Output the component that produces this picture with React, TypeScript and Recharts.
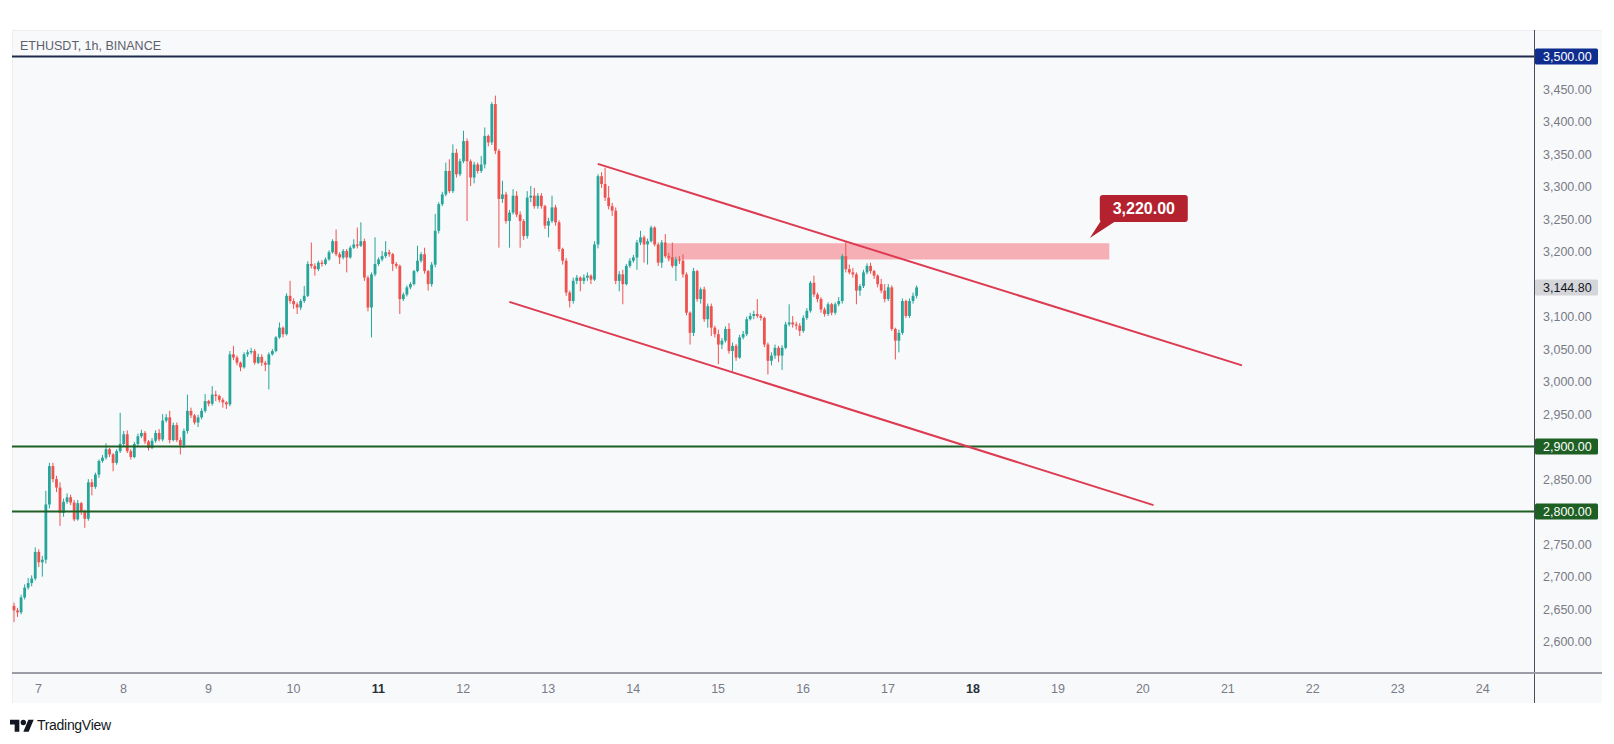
import React from 'react';
import { ComposedChart, Bar, XAxis, YAxis, ReferenceLine, ReferenceArea, ReferenceDot } from 'recharts';

// ---------------- DATA ----------------
const firstOpen = 2655;

const closes = [
  2648, 2645, 2668, 2683, 2690, 2697, 2738, 2722, 2726, 2811, 2870, 2850, 2837, 2798, 2815, 2822, 2814, 2788, 2813, 2800,
  2789, 2845, 2838, 2857, 2878, 2883, 2896, 2888, 2875, 2893, 2904, 2919, 2893, 2884, 2904, 2916, 2921, 2908, 2898, 2909,
  2921, 2911, 2940, 2945, 2910, 2933, 2910, 2902, 2924, 2955, 2948, 2937, 2945, 2955, 2970, 2966, 2980, 2978, 2972, 2968, 2965,
  3042, 3037, 3029, 3022, 3042, 3045, 3047, 3029, 3038, 3029, 3026, 3042, 3047, 3068, 3083, 3073, 3132, 3124, 3119, 3114,
  3124, 3132, 3181, 3178, 3173, 3183, 3181, 3188, 3199, 3216, 3196, 3191, 3201, 3191, 3206, 3211, 3209, 3216, 3160, 3114,
  3165, 3181, 3188, 3193, 3199, 3196, 3181, 3178, 3127, 3134, 3145, 3150, 3170, 3186, 3196, 3170, 3150, 3180, 3232, 3273,
  3288, 3324, 3293, 3352, 3319, 3339, 3370, 3339, 3314, 3334, 3324, 3334, 3378, 3368, 3427, 3355, 3281, 3288, 3247, 3260,
  3286, 3257, 3247, 3224, 3283, 3286, 3270, 3286, 3270, 3240, 3247, 3268, 3245, 3204, 3186, 3137, 3124, 3155, 3160, 3155,
  3160, 3163, 3157, 3211, 3316, 3304, 3283, 3270, 3263, 3155, 3165, 3150,
  3178, 3186, 3191, 3214, 3222, 3211, 3216, 3237, 3211, 3183, 3214, 3193, 3191, 3178, 3188, 3186, 3165, 3106, 3075, 3170,
  3127, 3142, 3096, 3116, 3083, 3073, 3057, 3063, 3081, 3047, 3055, 3037, 3068, 3073, 3096, 3101, 3104, 3101, 3098, 3057,
  3032, 3040, 3052, 3040, 3052, 3088, 3091, 3088, 3086, 3078, 3098, 3109, 3152, 3134, 3127, 3111, 3104, 3119, 3106, 3119,
  3124, 3193, 3173,
  3168, 3165, 3140, 3147, 3168, 3178, 3170, 3163, 3150, 3140, 3127, 3145, 3081, 3063, 3075, 3124, 3101, 3124, 3132, 3144.8,
];

const highs = [
  2660, 2652, 2672, 2688, 2698, 2702, 2745, 2742, 2732, 2832, 2875, 2875, 2855, 2845, 2820, 2828, 2826, 2818, 2818, 2815,
  2803, 2850, 2850, 2860, 2880, 2887, 2905, 2898, 2890, 2896, 2952, 2924, 2925, 2896, 2907, 2920, 2926, 2924, 2910, 2913,
  2925, 2927, 2950, 2950, 2955, 2937, 2937, 2914, 2928, 2980, 2960, 2950, 2949, 2959, 2981, 2972, 2993, 2986, 2980, 2975, 2970,
  3047, 3055, 3040, 3031, 3045, 3049, 3052, 3050, 3043, 3042, 3032, 3045, 3050, 3070, 3091, 3085, 3136, 3155, 3128, 3122,
  3127, 3147, 3185, 3214, 3182, 3186, 3187, 3191, 3202, 3219, 3234, 3199, 3204, 3204, 3209, 3219, 3237, 3245, 3220, 3163,
  3168, 3222, 3191, 3201, 3216, 3203, 3198, 3184, 3180, 3137, 3148, 3153, 3172, 3209, 3199, 3206, 3172, 3184, 3258, 3276,
  3292, 3337, 3342, 3365, 3358, 3343, 3386, 3374, 3342, 3338, 3337, 3347, 3391, 3380, 3430, 3440, 3358, 3309, 3292, 3264,
  3296, 3293, 3262, 3250, 3293, 3301, 3298, 3290, 3290, 3272, 3252, 3286, 3272, 3248, 3206, 3190, 3140, 3160, 3164, 3162,
  3165, 3168, 3165, 3216, 3319, 3322, 3329, 3301, 3275, 3268, 3170, 3172,
  3181, 3190, 3195, 3218, 3232, 3225, 3220, 3240, 3239, 3214, 3218, 3227, 3198, 3214, 3192, 3193, 3196, 3168, 3108, 3175,
  3172, 3145, 3146, 3120, 3120, 3086, 3080, 3067, 3085, 3090, 3060, 3058, 3072, 3078, 3100, 3106, 3109, 3127, 3104, 3100,
  3060, 3045, 3057, 3055, 3056, 3092, 3119, 3101, 3092, 3090, 3102, 3113, 3155, 3163, 3137, 3130, 3114, 3122, 3121, 3122,
  3130, 3196, 3216,
  3180, 3175, 3168, 3150, 3172, 3182, 3183, 3172, 3165, 3158, 3150, 3150, 3148, 3083, 3080, 3128, 3126, 3128, 3137, 3148,
];

const lows = [
  2630, 2638, 2642, 2665, 2680, 2685, 2694, 2715, 2700, 2720, 2805, 2845, 2830, 2778, 2792, 2812, 2810, 2785, 2786, 2795,
  2775, 2786, 2825, 2835, 2852, 2875, 2880, 2884, 2862, 2872, 2890, 2900, 2890, 2880, 2882, 2900, 2913, 2904, 2894, 2896,
  2906, 2908, 2908, 2937, 2905, 2908, 2907, 2888, 2898, 2920, 2944, 2934, 2930, 2942, 2952, 2962, 2963, 2970, 2968, 2960, 2958,
  2962, 3033, 3025, 3016, 3020, 3038, 3042, 3026, 3027, 3024, 3016, 2988, 3040, 3045, 3066, 3068, 3071, 3120, 3112, 3104,
  3110, 3121, 3130, 3174, 3163, 3170, 3177, 3179, 3186, 3197, 3193, 3181, 3188, 3168, 3189, 3204, 3205, 3207, 3155, 3108,
  3068, 3162, 3178, 3185, 3190, 3192, 3170, 3174, 3104, 3124, 3131, 3142, 3148, 3168, 3183, 3166, 3140, 3146, 3176, 3228,
  3270, 3285, 3290, 3290, 3314, 3316, 3336, 3247, 3301, 3305, 3320, 3321, 3328, 3362, 3364, 3350, 3206, 3275, 3243, 3206,
  3257, 3253, 3206, 3218, 3220, 3276, 3266, 3266, 3266, 3235, 3222, 3244, 3240, 3200, 3180, 3132, 3114, 3120, 3150, 3139,
  3150, 3155, 3150, 3155, 3205, 3298, 3278, 3265, 3255, 3150, 3139, 3119,
  3148, 3175, 3183, 3172, 3210, 3183, 3180, 3214, 3208, 3178, 3175, 3190, 3185, 3175, 3155, 3181, 3160, 3102, 3057, 3070,
  3123, 3120, 3092, 3083, 3070, 3068, 3027, 3050, 3060, 3043, 3016, 3032, 3035, 3065, 3070, 3094, 3096, 3098, 3094, 3053,
  3011, 3025, 3035, 3030, 3018, 3050, 3085, 3083, 3080, 3070, 3075, 3095, 3106, 3130, 3122, 3106, 3100, 3101, 3102, 3103,
  3116, 3120, 3168,
  3165, 3160, 3119, 3132, 3144, 3165, 3166, 3158, 3145, 3136, 3122, 3124, 3078, 3034, 3045, 3072, 3098, 3098, 3120, 3128,
];

const totalSlots = 430;
const dayLabels = ['7', '8', '9', '10', '11', '12', '13', '14', '15', '16', '17', '18', '19', '20', '21', '22', '23', '24'];
const dayStartIndex = [7, 31, 55, 79, 103, 127, 151, 175, 199, 223, 247, 271, 295, 319, 343, 367, 391, 415];
const boldDays = ['11', '18'];
const priceTicks = [2600, 2650, 2700, 2750, 2850, 2950, 3000, 3050, 3100, 3200, 3250, 3300, 3350, 3400, 3450];
const blueLevel = 3500;
const greenLevels = [2900, 2800];
const lastPrice = 3144.8;
const zoneIndex = [185, 309];
const zonePrice = [3188, 3213];
const upperChannel = [{ x: 165, y: 3335 }, { x: 347, y: 3025 }];
const lowerChannel = [{ x: 140, y: 3122.6 }, { x: 322, y: 2810 }];
const callout = { x: 304, y: 3221, text: '3,220.00' };
const priceDomain = [2551.7, 3539.4];

const data = Array.from({ length: totalSlots }, (_, i) => {
  if (i >= closes.length) return { i, range: null };
  const open = i === 0 ? firstOpen : closes[i - 1];
  const close = closes[i];
  const high = Math.max(highs[i], open, close);
  const low = Math.min(lows[i], open, close);
  return { i, open, close, high, low, range: [low, high] };
});

// ---------------- STYLE ----------------
const FONT = '"Liberation Sans", Arial, sans-serif';
const UP = '#26a69a';
const DOWN = '#ef5350';
const CHART_W = 1590;
const CHART_H = 672;
const Y_AXIS_W = 68;
const X_AXIS_H = 30;
const PLOT_RIGHT = CHART_W - Y_AXIS_W;
const PLOT_BOTTOM = CHART_H - X_AXIS_H;

const fmt = (v: number) => v.toLocaleString('en-US', { minimumFractionDigits: 2, maximumFractionDigits: 2 });

const specialLabels: Record<string, { bg: string; fg: string }> = {
  [String(blueLevel)]: { bg: '#0f2d8f', fg: '#ffffff' },
  [String(greenLevels[0])]: { bg: '#1e5f24', fg: '#ffffff' },
  [String(greenLevels[1])]: { bg: '#1e5f24', fg: '#ffffff' },
  [String(lastPrice)]: { bg: '#d5d6da', fg: '#131722' },
};

const Candle = (props: any) => {
  const { x, y, width, height, payload } = props;
  if (!payload || payload.close == null || !isFinite(y) || !isFinite(height)) return null;
  const { open, close, high, low } = payload;
  const top = Math.min(y, y + height);
  const h = Math.abs(height);
  const span = high - low || 1;
  const py = (p: number) => top + ((high - p) / span) * h;
  const cx = x + width / 2;
  const color = close >= open ? UP : DOWN;
  const bTop = py(Math.max(open, close));
  const bBot = py(Math.min(open, close));
  const bw = 2.8;
  return (
    <g>
      <line x1={cx} x2={cx} y1={top} y2={top + h} stroke={color} strokeWidth={1} />
      <rect x={cx - bw / 2} y={bTop} width={bw} height={Math.max(1, bBot - bTop)} fill={color} />
    </g>
  );
};

const PriceTick = (props: any) => {
  const { y, payload } = props;
  const v = payload.value;
  const sp = specialLabels[String(v)];
  if (sp) {
    return (
      <g>
        <rect x={PLOT_RIGHT + 1} y={y - 8} width={63} height={16} rx={1.5} fill={sp.bg} />
        <text x={PLOT_RIGHT + 9} y={y + 4.5} fill={sp.fg} fontSize={12.5} fontFamily={FONT}>{fmt(v)}</text>
      </g>
    );
  }
  return (
    <text x={PLOT_RIGHT + 9} y={y + 4.5} fill="#787b86" fontSize={12.5} fontFamily={FONT}>{fmt(v)}</text>
  );
};

const DayTick = (props: any) => {
  const { x, payload } = props;
  const idx = dayStartIndex.indexOf(payload.value);
  const label = idx >= 0 ? dayLabels[idx] : '';
  const bold = boldDays.includes(label);
  return (
    <text x={x} y={PLOT_BOTTOM + 20} textAnchor="middle" fill={bold ? '#2a2e39' : '#787b86'} fontWeight={bold ? 700 : 400} fontSize={12.5} fontFamily={FONT}>
      {label}
    </text>
  );
};

const Callout = (props: any) => {
  const { cx, cy } = props;
  if (!isFinite(cx) || !isFinite(cy)) return null;
  return (
    <g>
      <path d={`M${cx} ${cy} L${cx + 11} ${cy - 17} L${cx + 26} ${cy - 17} Z`} fill="#b4212f" />
      <rect x={cx + 10} y={cy - 43} width={88} height={27} rx={3} fill="#b4212f" />
      <text x={cx + 54} y={cy - 23.5} textAnchor="middle" fill="#ffffff" fontWeight={700} fontSize={16} fontFamily={FONT}>
        {callout.text}
      </text>
    </g>
  );
};

const TVLogo = () => (
  <svg width={24} height={19} viewBox="0 0 36 28" style={{ position: 'absolute', left: 10, top: 717 }}>
    <path d="M14 22H7V11H0V4h14v18z" fill="#131722" />
    <circle cx={20} cy={8} r={4} fill="#131722" />
    <path d="M28 22h-8l7.5-18h8L28 22z" fill="#131722" />
  </svg>
);

export default function App() {
  const yTicks = [...priceTicks, blueLevel, ...greenLevels, lastPrice];
  return (
    <div style={{ position: 'absolute', left: 0, top: 0, width: 1614, height: 744, background: '#ffffff', overflow: 'hidden' }}>
      <div style={{ position: 'absolute', left: 12, top: 30, width: 1590, height: 673, background: '#f8f9fb', borderTop: '1px solid #eceef2', borderLeft: '1px solid #eceef2', boxSizing: 'border-box' }} />
      <div style={{ position: 'absolute', left: 12, top: 31 }}>
        <ComposedChart width={CHART_W} height={CHART_H} data={data} margin={{ top: 0, right: 0, bottom: 0, left: 0 }} barCategoryGap={0}>
          <XAxis dataKey="i" type="category" ticks={dayStartIndex} interval={0} tick={DayTick} tickLine={false} axisLine={false} height={X_AXIS_H} />
          <YAxis orientation="right" type="number" domain={priceDomain} allowDataOverflow ticks={yTicks} interval={0} tick={PriceTick} tickLine={false} axisLine={false} width={Y_AXIS_W} />
          <ReferenceArea x1={zoneIndex[0]} x2={zoneIndex[1]} y1={zonePrice[0]} y2={zonePrice[1]} fill="#f23645" fillOpacity={0.38} stroke="none" />
          <ReferenceLine y={blueLevel} stroke="#1d2b4d" strokeWidth={2} />
          <ReferenceLine y={greenLevels[0]} stroke="#1e5f24" strokeWidth={2} />
          <ReferenceLine y={greenLevels[1]} stroke="#1e5f24" strokeWidth={2} />
          <Bar dataKey="range" shape={Candle} isAnimationActive={false} />
          <ReferenceLine segment={upperChannel} stroke="#dd3b52" strokeWidth={2} />
          <ReferenceLine segment={lowerChannel} stroke="#dd3b52" strokeWidth={2} />
          <ReferenceDot x={callout.x} y={callout.y} r={0} shape={Callout} />
        </ComposedChart>
      </div>
      <div style={{ position: 'absolute', left: 1534, top: 30, width: 1, height: 673, background: '#4a4d57' }} />
      <div style={{ position: 'absolute', left: 12, top: 672, width: 1590, height: 2, background: '#9a9da6' }} />
      <div style={{ position: 'absolute', left: 20, top: 39, fontFamily: FONT, fontSize: 12.5, color: '#5d606b', whiteSpace: 'nowrap' }}>
        ETHUSDT, 1h, BINANCE
      </div>
      <TVLogo />
      <div style={{ position: 'absolute', left: 37, top: 717, fontFamily: FONT, fontSize: 14, color: '#131722', whiteSpace: 'nowrap', letterSpacing: -0.3 }}>
        TradingView
      </div>
    </div>
  );
}
